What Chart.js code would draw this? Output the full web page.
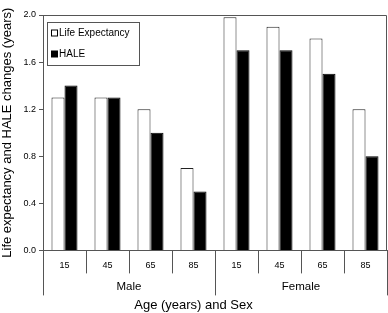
<!DOCTYPE html>
<html>
<head>
<meta charset="utf-8">
<script src="https://cdn.jsdelivr.net/npm/chart.js@4.4.0/dist/chart.umd.min.js"></script>
<style>
html,body{margin:0;padding:0;background:#fff;}
#wrap{width:388px;height:313px;position:relative;}
</style>
</head>
<body>
<div id="wrap"><canvas id="c" width="388" height="313"></canvas></div>
<script>
const ages = ['15','45','65','85','15','45','65','85'];
const sexes = ['Male','Female'];
const lifeExpectancy = [1.3, 1.3, 1.2, 0.7, 1.98, 1.9, 1.8, 1.2];
const hale = [1.4, 1.3, 1.0, 0.5, 1.7, 1.7, 1.5, 0.8];
const yTicks = [0, 0.4, 0.8, 1.2, 1.6, 2.0];

const AX = '#555';
const FONT = "'Liberation Sans', Arial, sans-serif";

const framePlugin = {
  id: 'frame',
  afterDatasetsDraw(chart) {
    const {ctx, chartArea: a} = chart;
    ctx.save();
    ctx.strokeStyle = AX;
    ctx.lineWidth = 1;
    ctx.beginPath();
    ctx.moveTo(a.left, a.top + 0.5);
    ctx.lineTo(a.right - 0.5, a.top + 0.5);
    ctx.lineTo(a.right - 0.5, a.bottom);
    ctx.stroke();
    ctx.restore();
  }
};

const legendPlugin = {
  id: 'boxLegend',
  afterDraw(chart) {
    const {ctx, chartArea: a} = chart;
    const x0 = a.left + 4, y0 = a.top + 7, w = 92, h = 43;
    ctx.save();
    ctx.fillStyle = '#fff';
    ctx.fillRect(x0, y0, w, h);
    ctx.strokeStyle = AX;
    ctx.lineWidth = 1;
    ctx.strokeRect(x0 + 0.5, y0 + 0.5, w, h);
    ctx.font = '10px ' + FONT;
    ctx.textBaseline = 'middle';
    chart.data.datasets.forEach((ds, i) => {
      const cy = y0 + 11 + i * 21;
      ctx.fillStyle = ds.backgroundColor;
      ctx.fillRect(x0 + 4.5, cy - 3, 6, 6);
      ctx.strokeStyle = '#000';
      ctx.strokeRect(x0 + 4.5, cy - 3, 6, 6);
      ctx.fillStyle = '#000';
      ctx.fillText(ds.label, x0 + 12, cy + 0.5);
    });
    ctx.restore();
  }
};

new Chart(document.getElementById('c'), {
  type: 'bar',
  data: {
    labels: ages,
    datasets: [
      {label: 'Life Expectancy', data: lifeExpectancy, backgroundColor: '#ffffff', borderColor: '#222', borderWidth: 1, borderSkipped: 'bottom'},
      {label: 'HALE', data: hale, backgroundColor: '#000000', borderColor: '#000', borderWidth: 1, borderSkipped: 'bottom'}
    ]
  },
  options: {
    responsive: false,
    animation: false,
    layout: {padding: {top: 15, right: 1, left: 0, bottom: 0}},
    datasets: {bar: {categoryPercentage: 0.605, barPercentage: 1}},
    plugins: {
      legend: {display: false},
      tooltip: {enabled: false},
      title: {
        display: true, position: 'bottom', text: 'Age (years) and Sex',
        color: '#000', font: {family: FONT, size: 13, weight: 'normal'},
        padding: {top: 2, bottom: 0}
      }
    },
    scales: {
      x: {
        type: 'category', position: 'bottom', labels: ages, offset: true,
        grid: {offset: true, drawOnChartArea: false, tickLength: 23, color: AX, lineWidth: 1},
        border: {display: true, color: AX},
        ticks: {color: '#000', font: {family: FONT, size: 9}, padding: -13, maxRotation: 0, autoSkip: false},
        afterFit: s => { s.height = 23; }
      },
      x2: {
        type: 'category', position: 'bottom', labels: sexes, offset: true,
        grid: {offset: true, drawOnChartArea: false, tickLength: 22, color: AX, lineWidth: 1},
        border: {display: false},
        ticks: {color: '#000', font: {family: FONT, size: 11.5}, padding: -15, maxRotation: 0},
        afterFit: s => { s.height = 22; }
      },
      y: {
        min: 0, max: 2.0,
        afterBuildTicks: s => { s.ticks = yTicks.map(v => ({value: v})); },
        grid: {drawOnChartArea: false, tickLength: 4, color: AX},
        border: {display: true, color: AX},
        ticks: {color: '#000', font: {family: FONT, size: 9}, padding: 3, callback: v => Number(v).toFixed(1)},
        title: {display: true, text: 'Life expectancy and HALE changes (years)', color: '#000', font: {family: FONT, size: 13}, padding: 0},
        afterFit: s => { s.width = 43; }
      }
    }
  },
  plugins: [framePlugin, legendPlugin]
});
</script>
</body>
</html>
